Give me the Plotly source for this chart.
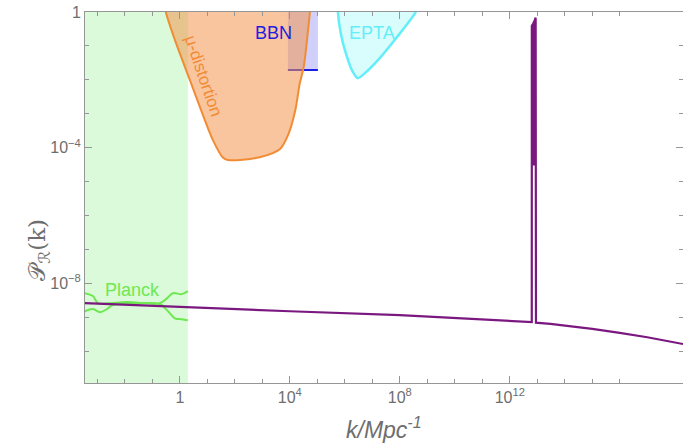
import plotly.graph_objects as go

# ---------------- data ----------------
# Primordial curvature power spectrum (purple): baseline before the spike
base_left_k = [3.5e-4, 1.0, 1.0e4, 1.0e8, 1.0e12]
base_left_P = [2.6e-9, 2.0e-9, 1.5e-9, 1.15e-9, 8.1e-10]
# oscillating spike near k ~ 1e13
spike_k = [6.31e12, 6.33e12, 6.40e12, 6.48e12, 6.56e12, 6.64e12, 6.72e12, 6.80e12,
           6.88e12, 6.96e12, 7.04e12, 7.12e12, 7.20e12, 7.28e12, 7.36e12, 7.44e12,
           7.52e12, 7.60e12, 7.68e12, 7.76e12, 7.84e12, 7.92e12, 8.00e12, 8.08e12,
           8.16e12, 8.24e12, 8.32e12, 8.40e12, 8.48e12, 8.56e12, 8.64e12, 8.72e12,
           8.80e12, 8.88e12, 8.93e12, 8.95e12]
spike_P = [7.2e-10, 0.38, 0.02, 0.40, 0.01, 0.42, 1e-3, 0.44, 0.01, 0.46, 1e-4, 0.48,
           0.01, 0.50, 3e-5, 0.52, 0.01, 0.54, 1e-3, 0.56, 0.01, 0.58, 1e-4, 0.60,
           0.01, 0.62, 1e-3, 0.64, 0.02, 0.66, 0.01, 0.68, 0.03, 0.66, 0.40, 6.9e-10]
# baseline after the spike
base_right_k = [3.0e13, 1.0e14, 1.0e15, 1.0e16, 1.0e17, 2.0e18]
base_right_P = [6.35e-10, 5.73e-10, 4.54e-10, 3.47e-10, 2.57e-10, 1.62e-10]

# Planck band
planck_band_k = [1e-4, 1.95, 1.95, 1e-4]
planck_band_P = [1e-12, 1e-12, 10.0, 10.0]
planck_up_k = [3.5e-4, 6.9e-4, 1.05e-3, 2.8e-3, 1.17e-2, 0.186, 0.34, 0.56, 1.17, 1.95]
planck_up_P = [5.1e-9, 4.2e-9, 2.6e-9, 2.6e-9, 2.8e-9, 2.6e-9, 3.6e-9, 5.1e-9, 4.8e-9, 5.9e-9]
planck_lo_k = [3.5e-4, 6.9e-4, 1.23e-3, 2.24e-3, 3.6e-3, 1.17e-2, 0.186, 0.34, 0.66, 1.17, 1.95]
planck_lo_P = [1.5e-9, 1.74e-9, 1.41e-9, 1.74e-9, 2.3e-9, 2.45e-9, 2.45e-9, 1.62e-9, 9.3e-10, 8.7e-10, 8.1e-10]

# mu-distortion bound (closed region)
mu_k = [0.28, 0.31, 0.66, 2.3, 8.1, 15.8, 36, 56, 800, 4400, 8.9e3, 1.58e4, 2.3e4, 3.2e4, 5.4e4, 6.0e4]
mu_P = [2.0, 1.0, 0.15, 0.01, 6.5e-4, 1.7e-4, 5.2e-5, 4.3e-5, 5.2e-5, 9.1e-5, 2.5e-4, 1.26e-3, 7.9e-3, 0.024, 1.0, 2.0]

# BBN bound
bbn_k = [8.5e3, 1.05e5]
bbn_P = 0.0195

# EPTA bound
epta_k = [5.6e5, 5.6e5, 7.1e5, 1.0e6, 1.8e6, 2.95e6, 5.4e6, 1.6e7, 7.8e7, 3.8e8, 4.5e8]
epta_P = [1.6, 1.0, 0.24, 0.076, 0.0195, 0.0112, 0.0158, 0.038, 0.18, 1.0, 1.6]

# axis ticks
x_major = [1, 1e4, 1e8, 1e12]
x_major_text = ["1", "10<sup>4</sup>", "10<sup>8</sup>", "10<sup>12</sup>"]
x_minor = [10.0 ** e for e in range(-3, 17)]
y_major = [1e-8, 1e-4, 1]
y_major_text = ["10<sup>−8</sup>", "10<sup>−4</sup>", "1"]
y_minor = [10.0 ** e for e in range(-10, 1)]

# ---------------- figure ----------------
PURPLE = "rgb(122,24,128)"
GREEN_LINE = "rgb(110,232,80)"
ORANGE = "rgb(242,140,52)"
BLUE = "rgb(30,30,225)"
CYAN = "rgb(100,238,248)"
AX = "rgb(150,150,150)"
TXT = "rgb(110,110,110)"

fig = go.Figure()

fig.add_trace(go.Scatter(x=planck_band_k, y=planck_band_P, mode="lines", fill="toself",
                         fillcolor="rgb(218,250,218)", line=dict(width=0), hoverinfo="skip"))

fig.add_trace(go.Scatter(x=[bbn_k[0], bbn_k[1], bbn_k[1], bbn_k[0]],
                         y=[bbn_P, bbn_P, 10, 10], mode="lines", fill="toself",
                         fillcolor="rgba(110,110,240,0.32)", line=dict(width=0)))
fig.add_trace(go.Scatter(x=bbn_k, y=[bbn_P, bbn_P], mode="lines",
                         line=dict(color=BLUE, width=2)))

fig.add_trace(go.Scatter(x=mu_k, y=mu_P, mode="lines", fill="toself",
                         fillcolor="rgba(242,150,80,0.55)",
                         line=dict(color=ORANGE, width=2, shape="spline", smoothing=0.8)))

fig.add_trace(go.Scatter(x=epta_k, y=epta_P, mode="lines", fill="toself",
                         fillcolor="rgba(130,245,250,0.3)",
                         line=dict(color=CYAN, width=2.5, shape="spline", smoothing=0.8)))

fig.add_trace(go.Scatter(x=planck_up_k, y=planck_up_P, mode="lines",
                         line=dict(color=GREEN_LINE, width=2, shape="spline")))
fig.add_trace(go.Scatter(x=planck_lo_k, y=planck_lo_P, mode="lines",
                         line=dict(color=GREEN_LINE, width=2, shape="spline")))

fig.add_trace(go.Scatter(x=base_left_k + spike_k + base_right_k,
                         y=base_left_P + spike_P + base_right_P, mode="lines",
                         line=dict(color=PURPLE, width=2.2)))

axis_common = dict(type="log", showgrid=False, zeroline=False, showline=True,
                   linecolor=AX, linewidth=1, mirror="allticks", ticks="inside",
                   tickcolor=AX, ticklen=7, tickwidth=1,
                   tickfont=dict(family="Liberation Sans, Arial", size=16, color=TXT))

fig.update_xaxes(**axis_common, range=[-3.45, 18.3], tickmode="array",
                 tickvals=x_major, ticktext=x_major_text,
                 minor=dict(tickmode="array", tickvals=x_minor, ticks="inside",
                            ticklen=4, tickcolor=AX))
fig.update_yaxes(**axis_common, range=[-10.94, 0], tickmode="array",
                 tickvals=y_major, ticktext=y_major_text,
                 minor=dict(tickmode="array", tickvals=y_minor, ticks="inside",
                            ticklen=4, tickcolor=AX))

ann_font = "Liberation Sans, Arial"
# annotation positions on log axes are given in log10 units
fig.add_annotation(x=-1.71, y=-8.2, xref="x", yref="y", text="Planck", showarrow=False,
                   font=dict(family=ann_font, size=18, color=GREEN_LINE))
fig.add_annotation(x=0.86, y=-1.86, xref="x", yref="y", text="μ-distortion", showarrow=False,
                   textangle=71, font=dict(family=ann_font, size=17, color=ORANGE))
fig.add_annotation(x=3.42, y=-0.62, xref="x", yref="y", text="BBN", showarrow=False,
                   font=dict(family=ann_font, size=18, color=BLUE))
fig.add_annotation(x=6.98, y=-0.62, xref="x", yref="y", text="EPTA", showarrow=False,
                   font=dict(family=ann_font, size=18, color=CYAN))

fig.add_annotation(x=-0.105, y=0.36, xref="paper", yref="paper",
                   text="𝒫<sub>ℛ</sub>(k)", showarrow=False, textangle=-90,
                   font=dict(family="DejaVu Serif, DejaVu Sans", size=23, color=TXT))
fig.add_annotation(x=0.5, y=-0.12, xref="paper", yref="paper",
                   text="<i>k/Mpc<sup>-1</sup></i>", showarrow=False, yanchor="middle",
                   font=dict(family=ann_font, size=23, color=TXT))

fig.update_layout(width=683, height=445, margin=dict(l=85, r=0, t=12, b=62),
                  plot_bgcolor="white", paper_bgcolor="white", showlegend=False)

fig.write_html("out.html")
